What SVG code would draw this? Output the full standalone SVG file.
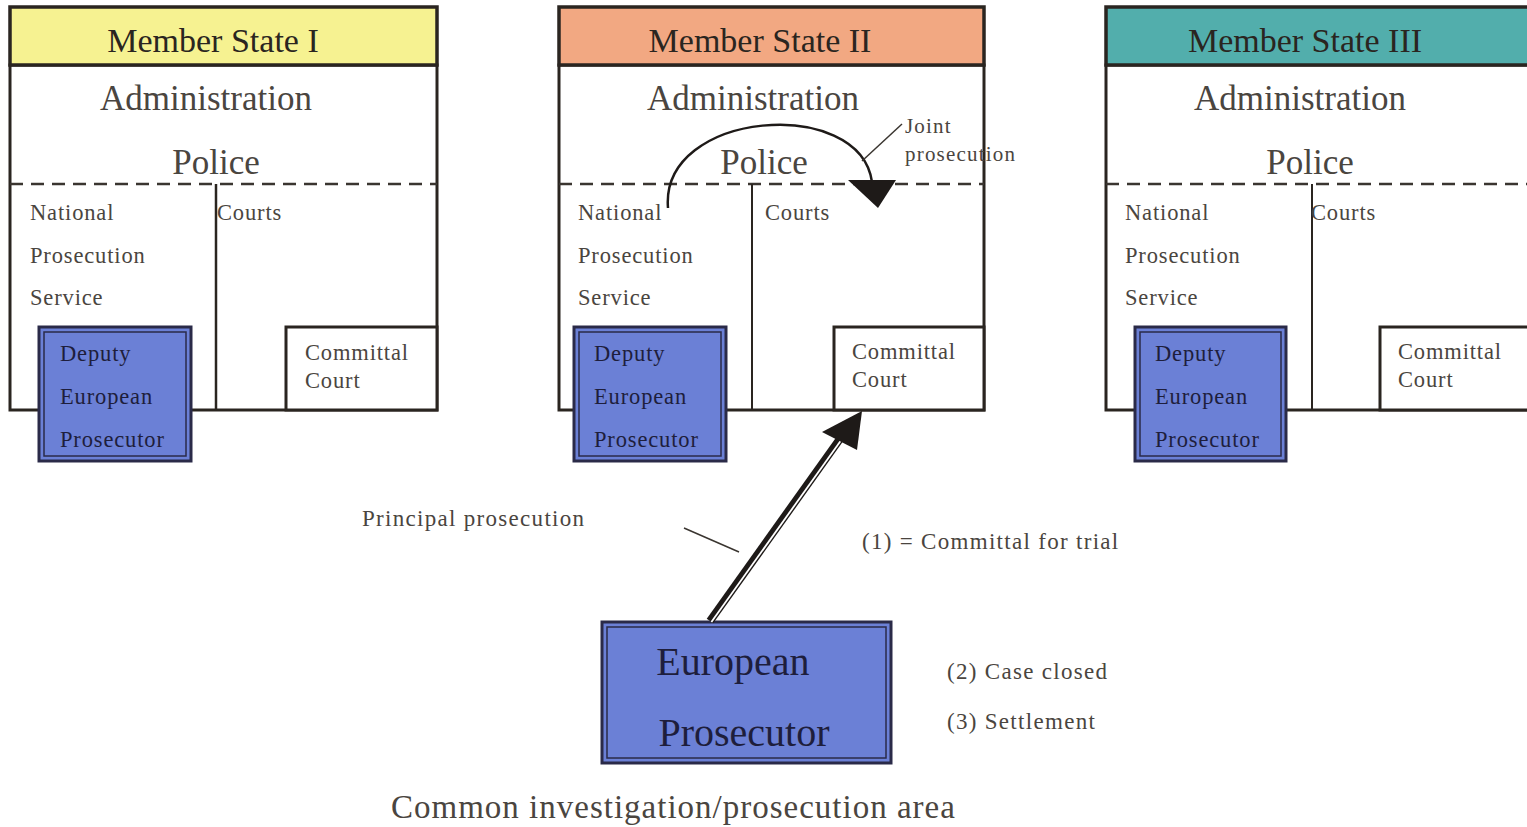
<svg xmlns="http://www.w3.org/2000/svg" width="1527" height="827" viewBox="0 0 1527 827">
<defs>
<style>
.bg{fill:#ffffff}
.hdr{stroke:#2a2520;stroke-width:3.5}
.box{fill:#ffffff;stroke:#2a2520;stroke-width:3}
.ln{stroke:#2a2520;stroke-width:2.5;fill:none}
.dash{stroke:#3a3530;stroke-width:2.5;stroke-dasharray:13 8;fill:none}
.dep{fill:#6b80d6;stroke:#2a2a48;stroke-width:3}
.depin{fill:none;stroke:#2a2a48;stroke-width:1.5}
.t{font-family:"Liberation Serif","Times New Roman",serif;fill:#4a4540}
.hd{font-size:34px;fill:#2a2520;text-anchor:middle}
.big{font-size:35px;text-anchor:middle}
.sm{font-size:22.5px;letter-spacing:0.85px}
.dt{font-size:22.5px;fill:#1e1e3c;letter-spacing:0.85px}
.ep{font-size:40px;fill:#1e1e3c;text-anchor:middle}
.lb{font-size:23px;letter-spacing:1.3px}
</style>
</defs>
<rect class="bg" x="0" y="0" width="1527" height="827"/>

<g id="state1">
<rect class="box" x="10" y="65" width="427" height="345"/>
<rect class="hdr" x="10" y="7" width="427" height="58" fill="#f6f291"/>
<text class="t hd" x="213" y="52">Member State I</text>
<text class="t big" x="206" y="110">Administration</text>
<text class="t big" x="216" y="174">Police</text>
<line class="dash" x1="10" y1="184" x2="437" y2="184"/>
<line class="ln" x1="216" y1="184" x2="216" y2="410"/>
<text class="t sm" x="30" y="220">National</text>
<text class="t sm" x="30" y="263">Prosecution</text>
<text class="t sm" x="30" y="305">Service</text>
<text class="t sm" x="217" y="220">Courts</text>
<rect class="box" x="286" y="327" width="151" height="83"/>
<text class="t sm" x="305" y="360">Committal</text>
<text class="t sm" x="305" y="388">Court</text>
<rect class="dep" x="39" y="327" width="152" height="134"/>
<rect class="depin" x="44" y="332" width="142" height="124"/>
<text class="t dt" x="60" y="361">Deputy</text>
<text class="t dt" x="60" y="404">European</text>
<text class="t dt" x="60" y="447">Prosecutor</text>
</g>

<g id="state2">
<rect class="box" x="559" y="65" width="425" height="345"/>
<rect class="hdr" x="559" y="7" width="425" height="58" fill="#f2a882"/>
<text class="t hd" x="760" y="52">Member State II</text>
<text class="t big" x="753" y="110">Administration</text>
<text class="t big" x="764" y="174">Police</text>
<line class="dash" x1="559" y1="184" x2="984" y2="184"/>
<line class="ln" x1="752" y1="184" x2="752" y2="410" style="stroke-width:2"/>
<text class="t sm" x="578" y="220">National</text>
<text class="t sm" x="578" y="263">Prosecution</text>
<text class="t sm" x="578" y="305">Service</text>
<text class="t sm" x="765" y="220">Courts</text>
<rect class="box" x="834" y="327" width="150" height="83"/>
<text class="t sm" x="852" y="359">Committal</text>
<text class="t sm" x="852" y="387">Court</text>
<rect class="dep" x="574" y="327" width="152" height="134"/>
<rect class="depin" x="579" y="332" width="142" height="124"/>
<text class="t dt" x="594" y="361">Deputy</text>
<text class="t dt" x="594" y="404">European</text>
<text class="t dt" x="594" y="447">Prosecutor</text>
</g>

<g id="state3">
<rect class="box" x="1106" y="65" width="430" height="345"/>
<rect class="hdr" x="1106" y="7" width="430" height="58" fill="#52aeac"/>
<text class="t hd" x="1305" y="52">Member State III</text>
<text class="t big" x="1300" y="110">Administration</text>
<text class="t big" x="1310" y="174">Police</text>
<line class="dash" x1="1106" y1="184" x2="1527" y2="184"/>
<line class="ln" x1="1312" y1="184" x2="1312" y2="410" style="stroke-width:2"/>
<text class="t sm" x="1125" y="220">National</text>
<text class="t sm" x="1125" y="263">Prosecution</text>
<text class="t sm" x="1125" y="305">Service</text>
<text class="t sm" x="1311" y="220">Courts</text>
<rect class="box" x="1380" y="327" width="160" height="83"/>
<text class="t sm" x="1398" y="359">Committal</text>
<text class="t sm" x="1398" y="387">Court</text>
<rect class="dep" x="1135" y="327" width="151" height="134"/>
<rect class="depin" x="1140" y="332" width="141" height="124"/>
<text class="t dt" x="1155" y="361">Deputy</text>
<text class="t dt" x="1155" y="404">European</text>
<text class="t dt" x="1155" y="447">Prosecutor</text>
</g>

<g id="european-prosecutor">
<rect class="dep" x="602" y="622" width="289" height="141"/>
<rect class="depin" x="607" y="627" width="279" height="131"/>
<text class="t ep" x="733" y="675">European</text>
<text class="t ep" x="744" y="746">Prosecutor</text>
</g>

<g id="connectors">
<path d="M668,208 C660,110 860,95 872,182" fill="none" stroke="#1e1a18" stroke-width="2.5"/>
<polygon points="848,180 896,180 878,208" fill="#1e1a18"/>
<line x1="902" y1="124" x2="862" y2="161" stroke="#3a3530" stroke-width="1.5"/>
<line x1="710" y1="621" x2="842" y2="436" stroke="#1e1a18" stroke-width="8"/>
<line x1="711.4" y1="622" x2="843.4" y2="437" stroke="#ffffff" stroke-width="1.8"/>
<polygon points="862,411 822,432 857,450" fill="#1e1a18"/>
<line x1="684" y1="528" x2="739" y2="552" stroke="#3a3530" stroke-width="1.5"/>
</g>

<g id="labels">
<text class="t lb" x="905" y="133" style="font-size:21px;letter-spacing:1.2px">Joint</text>
<text class="t lb" x="905" y="161" style="font-size:21px;letter-spacing:1.2px">prosecution</text>
<text class="t lb" x="362" y="526">Principal prosecution</text>
<text class="t lb" x="862" y="549">(1) = Committal for trial</text>
<text class="t lb" x="947" y="679">(2) Case closed</text>
<text class="t lb" x="947" y="729">(3) Settlement</text>
<text class="t" x="391" y="818" style="font-size:33px;letter-spacing:1px">Common investigation/prosecution area</text>
</g>
</svg>
